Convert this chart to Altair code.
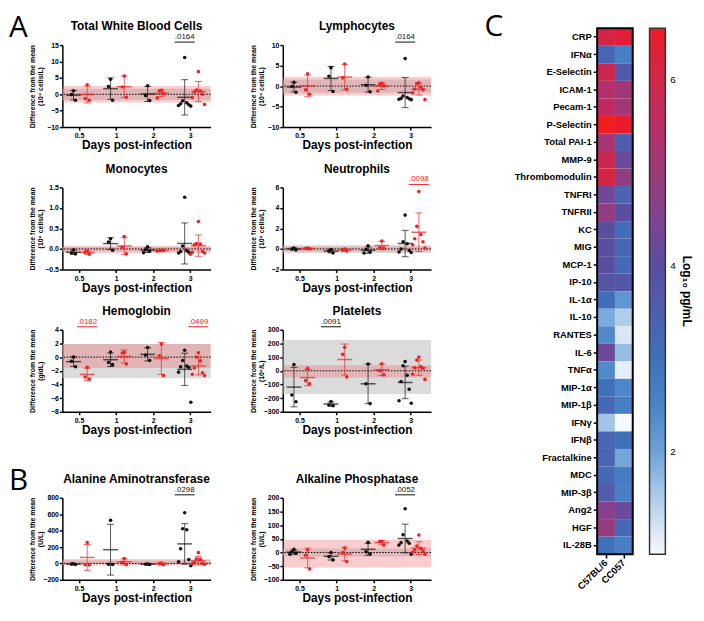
import altair as alt
import pandas as pd
import numpy as np

DAYS = ["0.5", "1", "2", "3"]
STRAINS = ["C57BL/6", "CC057"]
COLORS = ["#111111", "#ee2222"]

# ---- Panel A/B data: per day lists of individual values ----
WBC_B6 = [[1.1, -0.1, -1.8], [4.6, 2.4, -1.8], [2.6, -0.4, -1.9], [11.2, -2.0, -2.6, -2.9, -3.2, -3.4, -3.6]]
WBC_CC = [[2.9, -1.3, -1.8], [5.6, 2.2, -0.9], [1.2, 1.0, 0.2, -1.1], [6.9, 1.3, 1.0, 0.7, 0.0, -1.0, -3.1]]
WBC_GREY = [-1.7, 1.7]
WBC_PINK = [-2.5, 2.5]

LYM_B6 = [[0.9, -0.1, -1.5], [4.5, 2.4, -1.3], [2.2, 0.2, -1.4], [6.7, -2.4, -2.8, -3.0, -3.1, -3.2, -3.3]]
LYM_CC = [[3.0, -0.9, -2.0], [5.4, 2.0, -0.8], [0.7, 0.4, 0.1, -1.2], [0.8, 0.6, -0.3, -0.7, -0.9, -1.7, -3.3]]
LYM_GREY = [-1.6, 1.6]
LYM_PINK = [-2.3, 2.3]

MON_B6 = [[-0.02, -0.10, -0.12], [0.25, 0.17, -0.03], [0.05, -0.02, -0.05, -0.09], [1.26, 0.07, -0.04, -0.06, -0.08, -0.10, -0.11]]
MON_CC = [[-0.05, -0.08, -0.13], [0.30, 0.04, -0.12], [-0.03, -0.04, -0.04, -0.05], [0.67, 0.13, 0.12, 0.10, -0.06, -0.08, -0.10, -0.13]]
MON_GREY = [-0.06, 0.05]
MON_PINK = [-0.10, 0.08]

NEU_B6 = [[0.1, 0.0, -0.1], [-0.05, -0.2, -0.4], [0.3, -0.05, -0.3, -0.4], [3.3, 0.7, 0.5, 0.0, -0.15, -0.3, -0.35]]
NEU_CC = [[0.1, 0.05, 0.0], [0.0, -0.1, -0.2], [0.78, 0.12, 0.1], [5.6, 2.2, 1.4, 1.0, 0.7, 0.4, 0.1]]
NEU_GREY = [-0.4, 0.35]
NEU_PINK = [-0.25, 0.25]

HGB_B6 = [[0.0, -0.6, -1.4], [0.75, -0.8, -1.1], [1.4, 0.3, -0.5], [1.0, -0.5, -1.3, -1.4, -1.5, -2.2, -6.6]]
HGB_CC = [[-1.5, -2.9, -3.2], [0.7, 0.6, -1.0], [1.9, 0.2, -2.7], [0.65, 0.0, -0.55, -1.6, -2.3, -2.5, -2.7]]
HGB_GREY = [-3.1, 1.9]
HGB_PINK = [-1.6, 1.9]

PLT_B6 = [[45, -177, -226], [-225, -250, -255], [50, -95, -240], [67, 37, -33, -79, -135, -219, -237]]
PLT_CC = [[18, -72, -95], [172, 120, -45], [52, 0, -30], [100, 78, 30, 22, 18, -25, -63]]
PLT_GREY = [-170, 225]
PLT_PINK = [-50, 40]

ALT_B6 = [[-5, -8, -12], [525, -10, -12], [-8, -10, -12], [617, 422, 410, 180, 48, 20, -28]]
ALT_CC = [[255, -15, -20], [60, 15, -15], [5, -2, -15], [132, 55, 48, 10, 0, -5, -10]]
ALT_GREY = [-10, 35]
ALT_PINK = [-25, 55]

ALP_B6 = [[12, 3, -3, -6], [0, -15, -27], [37, 3, -5], [160, 65, 42, 36, 34, 27, -6]]
ALP_CC = [[10, -10, -60], [16, 0, -33], [41, 40, 27], [64, 24, 15, 9, 5, 1, -6]]
ALP_GREY = [-15, 15]
ALP_PINK = [-55, 47]

# ---- Panel C data ----
ANALYTES = ["CRP", "IFNα", "E-Selectin", "ICAM-1", "Pecam-1", "P-Selectin", "Total PAI-1",
            "MMP-9", "Thrombomodulin", "TNFRI", "TNFRII", "KC", "MIG", "MCP-1", "IP-10",
            "IL-1α", "IL-10", "RANTES", "IL-6", "TNFα", "MIP-1α", "MIP-1β", "IFNγ", "IFNβ",
            "Fractalkine", "MDC", "MIP-3β", "Ang2", "HGF", "IL-28B"]
LOG_B6 = [6.1, 3.3, 5.9, 5.4, 5.6, 6.6, 5.2, 5.9, 6.1, 4.3, 4.8, 4.0, 4.0, 4.0, 3.8,
          3.1, 1.9, 2.4, 4.2, 2.4, 3.0, 3.2, 1.6, 3.3, 3.3, 3.2, 3.6, 4.6, 4.9, 3.0]
LOG_CC = [6.3, 2.6, 3.7, 5.1, 5.1, 6.45, 3.6, 4.2, 4.8, 3.4, 4.0, 3.1, 3.3, 3.2, 3.75,
          2.2, 1.5, 1.15, 1.7, 1.05, 2.45, 2.6, 0.9, 3.0, 1.95, 2.7, 2.6, 4.2, 3.2, 2.6]
HEAT_DOMAIN = [0.9, 1.5, 2.0, 2.5, 3.0, 4.0, 5.0, 6.0, 6.56]
HEAT_RANGE = ["#f6f9fe", "#b0cdea", "#6ea2d8", "#4a84c8", "#3f70ba", "#5a4ea0",
              "#9a3a78", "#d0284a", "#ee1c25"]

FONT = "Liberation Sans"
OFFS = [-0.15, 0.22]
XDOM = [-0.45, 3.55]
PW, PH = 150, 83
GREY_FILL = "#bdbdbd"
PINK_FILL = "#f06666"


def build_panel(title, unit, b6, cc, grey, pink, ydom, ystep, yfmt, sigs, letter, show_letter):
    pts, summ = [], []
    for gi, series in enumerate([b6, cc]):
        for di, vals in enumerate(series):
            xc = di + OFFS[gi]
            for k, v in enumerate(vals):
                j = 0 if k == 0 else ((k + 1) // 2) * (-1 if k % 2 else 1)
                pts.append({"x": xc + j * 0.055, "value": v, "strain": STRAINS[gi]})
            arr = np.array(vals, dtype=float)
            m, s = float(arr.mean()), float(arr.std(ddof=1))
            summ.append({"xc": xc, "mean": m, "lo": m - s, "hi": m + s, "strain": STRAINS[gi]})
    pts = pd.DataFrame(pts)
    summ = pd.DataFrame(summ)

    yvals = [float(v) for v in np.arange(ydom[0], ydom[1] + ystep / 2, ystep)]
    yscale = alt.Scale(domain=ydom, nice=False, zero=False)
    yaxis = alt.Axis(title=["Difference from the mean", unit], values=yvals, format=yfmt,
                     grid=False, titleX=-27, titleFontSize=7, titleFont=FONT,
                     titleFontWeight="bold", titleLineHeight=8, labelFontSize=7,
                     labelFont=FONT, labelFontWeight="bold", tickSize=3, labelPadding=1,
                     domainColor="black", domainWidth=1.5, tickColor="black", tickWidth=1.5,
                     labelColor="black", titleColor="black")
    xscale = alt.Scale(domain=XDOM, nice=False, zero=False)
    xaxis = alt.Axis(title="Days post-infection", values=[0, 1, 2, 3],
                     labelExpr="['0.5','1','2','3'][datum.value]", grid=False,
                     titleFontSize=12, titleFont=FONT, titleFontWeight="bold", titlePadding=1,
                     labelFontSize=7, labelFont=FONT, labelFontWeight="bold", tickSize=3,
                     labelPadding=2, domainColor="black", domainWidth=1.5,
                     tickColor="black", tickWidth=1.5, labelColor="black", titleColor="black")

    def Y(f):
        return alt.Y(f"{f}:Q", scale=yscale, axis=yaxis)

    def X(f):
        return alt.X(f"{f}:Q", scale=xscale, axis=xaxis)

    color = alt.Color("strain:N", scale=alt.Scale(domain=STRAINS, range=COLORS), legend=None)

    grey_df = pd.DataFrame({"lo": [grey[0]], "hi": [grey[1]]})
    pink_df = pd.DataFrame({"lo": [pink[0]], "hi": [pink[1]]})
    grey_band = alt.Chart(grey_df).mark_rect(color=GREY_FILL, opacity=0.55).encode(
        x=alt.value(0), x2=alt.value(PW), y=Y("lo"), y2="hi")
    pink_band = alt.Chart(pink_df).mark_rect(color=PINK_FILL, opacity=0.32).encode(
        x=alt.value(0), x2=alt.value(PW), y=Y("lo"), y2="hi")
    zero = alt.Chart(pd.DataFrame({"z": [0.0]})).mark_rule(
        color="black", strokeDash=[1.5, 1.5], strokeWidth=1).encode(y=Y("z"))

    sbase = alt.Chart(summ)
    err = sbase.mark_rule(strokeWidth=1, opacity=0.7).encode(x=X("xc"), y=Y("lo"), y2="hi", color=color)
    cap_lo = sbase.mark_tick(orient="horizontal", size=7, thickness=1, opacity=0.7).encode(
        x=X("xc"), y=Y("lo"), color=color)
    cap_hi = sbase.mark_tick(orient="horizontal", size=7, thickness=1, opacity=0.7).encode(
        x=X("xc"), y=Y("hi"), color=color)
    mean = sbase.mark_tick(orient="horizontal", size=15, thickness=1.5).encode(
        x=X("xc"), y=Y("mean"), color=color)
    dots = alt.Chart(pts).mark_circle(size=13, opacity=1).encode(x=X("x"), y=Y("value"), color=color)

    layers = [grey_band, pink_band, zero, err, cap_lo, cap_hi, mean, dots]

    if sigs:
        srows = []
        for day, gi, lab in sigs:
            xc = day + OFFS[gi]
            srows.append({"x1": xc - 0.27, "x2": xc + 0.27, "xm": xc, "label": lab, "strain": STRAINS[gi]})
        sdf = pd.DataFrame(srows)
        layers.append(alt.Chart(sdf).mark_rule(strokeWidth=1).encode(
            x=X("x1"), x2="x2", y=alt.value(-3), color=color))
        layers.append(alt.Chart(sdf).mark_text(fontSize=8, font=FONT, baseline="bottom").encode(
            x=X("xm"), y=alt.value(-4), text="label", color=color))

    layers.append(alt.Chart(pd.DataFrame({"t": [title]})).mark_text(
        font=FONT, fontSize=12, fontWeight="bold", align="center", baseline="alphabetic",
        color="black").encode(text="t", x=alt.value(PW / 2), y=alt.value(-15)))

    layers.append(alt.Chart(pd.DataFrame({"t": [letter]})).mark_text(
        font="Open Sans", fontSize=30, align="left", baseline="top",
        opacity=1 if show_letter else 0, color="black").encode(
        text="t", x=alt.value(-54), y=alt.value(-32)))

    return alt.layer(*layers).properties(width=PW, height=PH)


wbc = build_panel("Total White Blood Cells", "(10⁹ cells/L)", WBC_B6, WBC_CC, WBC_GREY, WBC_PINK,
                  [-10, 15], 5, "d", [(3, 0, ".0164")], "A", True)
lym = build_panel("Lymphocytes", "(10⁹ cells/L)", LYM_B6, LYM_CC, LYM_GREY, LYM_PINK,
                  [-10, 10], 5, "d", [(3, 0, ".0164")], "A", False)
mon = build_panel("Monocytes", "(10⁹ cells/L)", MON_B6, MON_CC, MON_GREY, MON_PINK,
                  [-0.5, 1.5], 0.5, ".1f", [], "A", False)
neu = build_panel("Neutrophils", "(10⁹ cells/L)", NEU_B6, NEU_CC, NEU_GREY, NEU_PINK,
                  [-2, 6], 2, "d", [(3, 1, ".0098")], "A", False)
hgb = build_panel("Hemoglobin", "(g/dL)", HGB_B6, HGB_CC, HGB_GREY, HGB_PINK,
                  [-8, 4], 2, "d", [(0, 1, ".0182"), (3, 1, ".0499")], "A", False)
plt_ = build_panel("Platelets", "(10⁹/L)", PLT_B6, PLT_CC, PLT_GREY, PLT_PINK,
                   [-300, 300], 100, "d", [(1, 0, ".0091")], "A", False)
alt_ = build_panel("Alanine Aminotransferase", "(U/L)", ALT_B6, ALT_CC, ALT_GREY, ALT_PINK,
                   [-200, 800], 200, "d", [(3, 0, ".0298")], "B", True)
alp = build_panel("Alkaline Phosphatase", "(U/L)", ALP_B6, ALP_CC, ALP_GREY, ALP_PINK,
                  [-100, 200], 50, "d", [(3, 0, ".0052")], "B", False)

r1 = alt.hconcat(wbc, lym, spacing=17)
r2 = alt.hconcat(mon, neu, spacing=17)
r3 = alt.hconcat(hgb, plt_, spacing=17)
r4 = alt.hconcat(alt_, alp, spacing=17)
left = alt.vconcat(alt.vconcat(r1, r2, r3, spacing=3), r4, spacing=29)

heat_rows = []
for a, v1, v2 in zip(ANALYTES, LOG_B6, LOG_CC):
    heat_rows.append({"analyte": a, "strain": STRAINS[0], "value": v1})
    heat_rows.append({"analyte": a, "strain": STRAINS[1], "value": v2})
heat_df = pd.DataFrame(heat_rows)

# heat map band runs from HEAT_TOP (above the row origin) down HEAT_H pixels
HEAT_TOP = -17
HEAT_H = 532
HEAT_W = 36
heat_rect = alt.Chart(heat_df).mark_rect().encode(
    x=alt.X("strain:N", sort=STRAINS,
            axis=alt.Axis(title=None, labelAngle=315, labelAlign="right", labelBaseline="middle",
                          labelFontSize=9.5, labelFont=FONT, labelFontWeight="bold",
                          tickSize=4, tickColor="black", tickWidth=1.5, domain=False,
                          labelPadding=3, labelColor="black")),
    y=alt.Y("analyte:N", sort=ANALYTES,
            scale=alt.Scale(range=[HEAT_TOP, HEAT_TOP + HEAT_H]),
            axis=alt.Axis(title=None, labelFontSize=9.5, labelFont=FONT, labelFontWeight="bold",
                          tickSize=4, tickColor="black", tickWidth=1.5, domain=False,
                          labelPadding=2, labelColor="black")),
    color=alt.Color("value:Q", scale=alt.Scale(domain=HEAT_DOMAIN, range=HEAT_RANGE),
                    legend=alt.Legend(orient="none", legendX=HEAT_W + 17, legendY=HEAT_TOP,
                                      direction="vertical",
                                      gradientLength=HEAT_H, gradientThickness=16,
                                      gradientStrokeColor="#333333", gradientStrokeWidth=1.5,
                                      values=[2, 4, 6], format="d", labelFontSize=10,
                                      labelFont=FONT, labelOffset=5, labelColor="black",
                                      title="Log₁₀ pg/mL", titleOrient="right",
                                      titleFontSize=12, titleFont=FONT, titleColor="black",
                                      titleFontWeight="bold", titleAnchor="middle",
                                      titlePadding=4)),
)
frame = alt.Chart(pd.DataFrame({"f": [0]})).mark_rect(
    fill="transparent", stroke="black", strokeWidth=2).encode(
    x=alt.value(0), x2=alt.value(HEAT_W), y=alt.value(HEAT_TOP), y2=alt.value(HEAT_TOP + HEAT_H))
c_text = alt.Chart(pd.DataFrame({"t": ["C"]})).mark_text(
    font="Open Sans", fontSize=30, align="left", baseline="top", color="black").encode(
    text="t", x=alt.value(-114), y=alt.value(-33))

heat = alt.layer(heat_rect, frame, c_text).properties(
    width=HEAT_W, height=HEAT_H + HEAT_TOP)

chart = alt.hconcat(left, heat, spacing=52).resolve_scale(color="independent").properties(
    padding={"left": 0, "top": 0, "right": 2, "bottom": 2}
).configure_view(stroke="transparent")

chart.save("out.html", embed_options={"renderer": "svg", "actions": False})
